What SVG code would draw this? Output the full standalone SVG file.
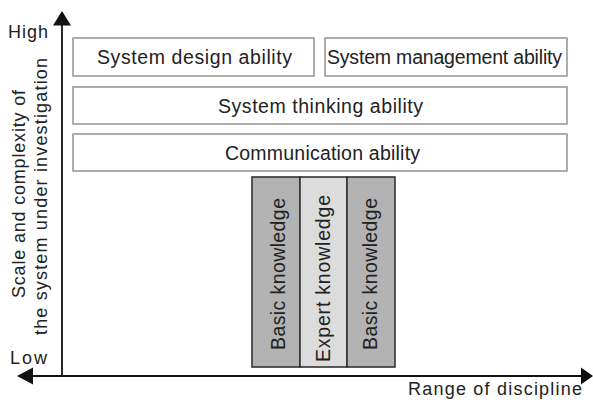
<svg xmlns="http://www.w3.org/2000/svg" width="593" height="405" viewBox="0 0 593 405">
<style>
text{font-family:"Liberation Sans",Arial,sans-serif;fill:#222;font-size:19.5px}
.sm{font-size:18px}
.ab{fill:#fff;stroke:#999;stroke-width:1.6}
.kb{stroke:#333;stroke-width:1.6}
.ax{stroke:#111;stroke-width:1.8;fill:none}
</style>
<rect width="593" height="405" fill="#fff"/>
<g id="axes">
<line class="ax" x1="62" y1="22" x2="62" y2="376"/>
<polygon points="62,11 53,25.5 71,25.5" fill="#111"/>
<line class="ax" x1="28" y1="376" x2="584" y2="376"/>
<polygon points="17,376 33,367.5 33,384.5" fill="#111"/>
<polygon points="593,376 581,367.5 581,384.5" fill="#111"/>
</g>
<g id="design"><rect class="ab" x="73" y="38" width="241" height="38"/><text x="97" y="64" textLength="195" lengthAdjust="spacing">System design ability</text></g>
<g id="management"><rect class="ab" x="325" y="38" width="242" height="38"/><text x="327" y="64" textLength="235" lengthAdjust="spacing">System management ability</text></g>
<g id="thinking"><rect class="ab" x="73" y="87" width="494" height="37"/><text x="218" y="113" textLength="205" lengthAdjust="spacing">System thinking ability</text></g>
<g id="communication"><rect class="ab" x="73" y="134" width="494" height="37"/><text x="225" y="159.5" textLength="195" lengthAdjust="spacing">Communication ability</text></g>
<g id="basic1"><rect class="kb" x="252" y="177" width="48" height="190" fill="#b3b3b3"/><text transform="translate(284.5,350) rotate(-90)" textLength="152" lengthAdjust="spacing">Basic knowledge</text></g>
<g id="expert"><rect class="kb" x="300" y="177" width="47" height="190" fill="#dcdcdc"/><text transform="translate(329.5,362) rotate(-90)" textLength="167" lengthAdjust="spacing">Expert knowledge</text></g>
<g id="basic2"><rect class="kb" x="347" y="177" width="48" height="190" fill="#b3b3b3"/><text transform="translate(376.5,350) rotate(-90)" textLength="152" lengthAdjust="spacing">Basic knowledge</text></g>
<g id="labels">
<text class="sm" x="8" y="38" textLength="40" lengthAdjust="spacing">High</text>
<text class="sm" x="10" y="364" textLength="37" lengthAdjust="spacing">Low</text>
<text class="sm" x="408" y="395" textLength="174" lengthAdjust="spacing">Range of discipline</text>
<text class="sm" transform="translate(25,298) rotate(-90)" textLength="208" lengthAdjust="spacing">Scale and complexity of</text>
<text class="sm" transform="translate(47,335) rotate(-90)" textLength="277" lengthAdjust="spacing">the system under investigation</text>
</g>
</svg>
